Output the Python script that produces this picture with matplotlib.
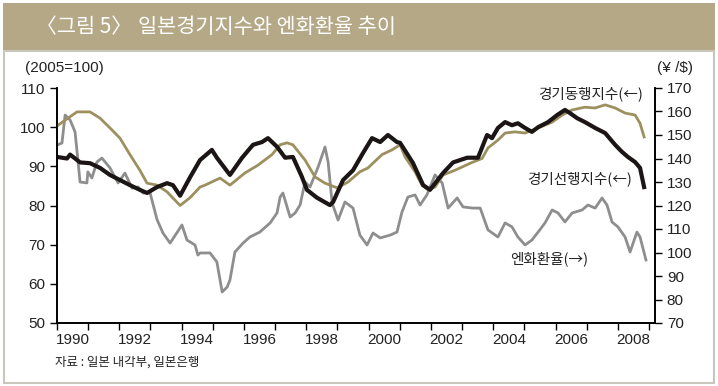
import matplotlib
matplotlib.use("Agg")
import matplotlib.pyplot as plt
from matplotlib.patches import Rectangle
import numpy as np

plt.rcParams['font.family'] = ['Liberation Sans', 'Noto Sans CJK KR', 'DejaVu Sans']

# 경기동행지수 (left axis, 2005=100)
coin_t = [1990.00, 1990.30, 1990.64, 1991.06, 1991.38, 1991.70, 1992.02, 1992.34, 1992.66,
          1992.89, 1993.21, 1993.53, 1993.95, 1994.27, 1994.59, 1994.75, 1995.23, 1995.55,
          1996.03, 1996.45, 1996.90, 1997.16, 1997.38, 1997.57, 1997.96, 1998.28, 1998.60,
          1998.99, 1999.34, 1999.72, 1999.98, 2000.43, 2000.75, 2001.01, 2001.17, 2001.49,
          2001.71, 2001.91, 2002.13, 2002.39, 2002.77, 2003.32, 2003.64, 2003.83, 2004.15,
          2004.38, 2004.70, 2005.02, 2005.44, 2005.89, 2006.21, 2006.53, 2006.94, 2007.27,
          2007.59, 2007.91, 2008.23, 2008.55, 2008.71, 2008.84]
coin_v = [100.3, 102.0, 103.9, 103.9, 102.3, 99.8, 97.2, 93.0, 89.0,
          85.7, 85.2, 83.5, 80.0, 82.0, 84.7, 85.2, 87.0, 85.2,
          88.3, 90.3, 93.0, 95.5, 96.0, 95.5, 91.6, 87.3, 85.7,
          84.5, 86.0, 88.6, 89.6, 93.0, 94.2, 95.5, 92.4, 88.6,
          85.2, 84.0, 84.7, 87.8, 89.0, 91.0, 92.0, 94.7, 96.7,
          98.5, 98.8, 98.5, 99.8, 101.3, 103.1, 104.4, 105.1, 104.9,
          105.7, 104.9, 103.6, 103.1, 101.0, 97.5]

# 경기선행지수 (left axis, 2005=100)
lead_t = [1990.00, 1990.32, 1990.42, 1990.74, 1991.06, 1991.38, 1991.70, 1992.02, 1992.34,
          1992.66, 1992.89, 1993.21, 1993.53, 1993.72, 1993.95, 1994.27, 1994.59, 1994.97,
          1995.13, 1995.55, 1995.94, 1996.29, 1996.58, 1996.77, 1997.06, 1997.32, 1997.57,
          1997.86, 1998.02, 1998.34, 1998.76, 1998.86, 1999.18, 1999.50, 1999.82, 2000.11,
          2000.37, 2000.62, 2000.91, 2001.01, 2001.42, 2001.75, 2001.97, 2002.39, 2002.71,
          2003.16, 2003.51, 2003.58, 2003.80, 2003.96, 2004.15, 2004.38, 2004.60, 2004.79,
          2005.02, 2005.24, 2005.44, 2005.76, 2006.05, 2006.30, 2006.46, 2006.69, 2006.94,
          2007.27, 2007.59, 2007.91, 2008.13, 2008.32, 2008.55, 2008.71, 2008.84]
lead_v = [92.4, 92.0, 93.0, 91.0, 90.8, 89.6, 87.8, 86.5, 85.2,
          84.0, 83.2, 84.7, 85.7, 85.2, 82.5, 87.2, 91.6, 94.2,
          92.2, 87.8, 92.2, 95.5, 96.2, 97.2, 95.0, 92.2, 92.4,
          87.3, 84.0, 82.0, 80.1, 80.9, 86.5, 89.0, 93.4, 97.2,
          96.2, 98.0, 96.2, 96.0, 90.9, 85.2, 84.0, 88.3, 91.0,
          92.2, 92.2, 93.6, 98.0, 97.2, 99.8, 101.3, 100.5, 101.0,
          99.8, 98.8, 100.0, 101.3, 103.1, 104.4, 103.6, 102.3, 101.3,
          99.8, 98.5, 95.5, 93.7, 92.4, 91.1, 89.6, 84.7]

# 엔화환율 (right axis, yen per dollar)
yen_t = [1990.00, 1990.16, 1990.26, 1990.42, 1990.58, 1990.74, 1990.96, 1990.99, 1991.12,
         1991.28, 1991.44, 1991.70, 1991.96, 1992.18, 1992.41, 1992.60, 1992.76, 1992.98,
         1993.21, 1993.40, 1993.63, 1994.01, 1994.17, 1994.43, 1994.52, 1994.59, 1994.91,
         1995.13, 1995.30, 1995.46, 1995.55, 1995.71, 1995.97, 1996.19, 1996.51, 1996.84,
         1997.06, 1997.16, 1997.25, 1997.48, 1997.64, 1997.80, 1997.96, 1998.12, 1998.38,
         1998.60, 1998.70, 1998.83, 1999.02, 1999.24, 1999.50, 1999.72, 1999.95, 2000.14,
         2000.37, 2000.69, 2000.91, 2001.07, 2001.26, 2001.49, 2001.65, 2001.87, 2002.13,
         2002.36, 2002.55, 2002.84, 2003.03, 2003.35, 2003.58, 2003.83, 2004.15, 2004.38,
         2004.60, 2004.79, 2005.02, 2005.24, 2005.44, 2005.66, 2005.89, 2006.08, 2006.30,
         2006.53, 2006.85, 2007.04, 2007.27, 2007.49, 2007.65, 2007.81, 2008.00, 2008.23,
         2008.39, 2008.61, 2008.71, 2008.90]
yen_v = [145.7, 146.6, 158.5, 156.4, 151.3, 130.0, 129.6, 134.3, 131.7,
         138.5, 140.2, 136.0, 129.6, 133.8, 127.4, 127.9, 125.3, 125.7,
         114.0, 108.3, 104.0, 111.7, 105.3, 103.2, 98.9, 99.8, 99.8,
         96.0, 83.2, 85.3, 88.3, 100.2, 104.0, 106.6, 108.7, 112.6,
         116.8, 123.6, 125.3, 115.1, 116.8, 120.2, 130.0, 127.9, 136.4,
         144.9, 138.5, 121.0, 113.8, 121.5, 118.9, 107.4, 103.2, 108.3,
         106.2, 107.4, 108.7, 117.2, 123.6, 124.5, 120.2, 124.5, 133.0,
         129.6, 118.9, 123.2, 119.4, 118.9, 118.9, 109.6, 106.6, 112.6,
         110.9, 106.6, 103.2, 105.3, 108.7, 112.6, 118.1, 116.8, 113.0,
         116.8, 118.1, 120.2, 118.9, 123.2, 120.2, 113.0, 110.9, 106.6,
         100.2, 108.7, 106.6, 96.8]

year_labels = [str(y) for y in range(1990, 2009, 2)]

fig = plt.figure(figsize=(7.18, 3.86), dpi=100)
W, H = 718.0, 386.0

# banner and frame
fig.patches.append(Rectangle((3 / W, 1 - 51 / H), 712 / W, 48 / H, transform=fig.transFigure,
                             facecolor='#b4a886', edgecolor='none', zorder=0))
fig.patches.append(Rectangle((4 / W, 3 / H), 710 / W, (H - 54) / H, transform=fig.transFigure,
                             facecolor='none', edgecolor='#c9c7bd', lw=1.5, zorder=0))
kr = ['Noto Sans CJK KR', 'DejaVu Sans']
fig.text(36 / W, 1 - 27 / H, '〈그림 5〉', color='white',
         fontsize=15, va='center', ha='left', family=kr)
fig.text(138 / W, 1 - 27 / H, '일본경기지수와 엔화환율 추이', color='white',
         fontsize=15, va='center', ha='left', family=kr)

ax = fig.add_axes([57 / W, 1 - 323 / H, 598 / W, 235 / H])
ax2 = ax.twinx()
ax.set_zorder(ax2.get_zorder() + 1)
ax.patch.set_visible(False)

ax2.plot(yen_t, yen_v, color='#8e8e8e', lw=2.0)
ax.plot(coin_t, coin_v, color='#9d905f', lw=2.0)
ax.plot(lead_t, lead_v, color='#1c1515', lw=3.0)

ax.set_xlim(1990, 2009.19)
ax.set_ylim(50, 110)
ax2.set_ylim(70, 170)
ax.set_yticks(range(50, 111, 10))
ax2.set_yticks(range(70, 171, 10))

ax.set_xticks(range(1990, 2010))
ax.set_xticklabels([])
ax.set_xticks([y + 0.5 for y in range(1990, 2009, 2)], minor=True)
ax.set_xticklabels(year_labels, minor=True)
ax.tick_params(axis='x', which='major', direction='out', length=5, width=1)
ax.tick_params(axis='x', which='minor', length=0, pad=7, labelsize=11, labelcolor='#222222')
ax.tick_params(axis='y', direction='out', length=5, width=1, labelsize=11, labelcolor='#222222')
ax2.tick_params(axis='y', direction='out', length=5, width=1, labelsize=11, labelcolor='#222222')

for a in (ax, ax2):
    a.spines['top'].set_visible(False)
    for s in ('left', 'right', 'bottom'):
        a.spines[s].set_linewidth(1.2)

fig.text(25 / W, 1 - 68 / H, '(2005=100)', fontsize=11, color='#222222', va='center')
fig.text(657 / W, 1 - 68 / H, '(¥ /$)', fontsize=11, color='#222222', va='center')
ax.text(2008.8, 108.5, '경기동행지수(←)', fontsize=10.5, family=kr, ha='right', va='center', color='#222222')
ax.text(2008.45, 86.7, '경기선행지수(←)', fontsize=10.5, family=kr, ha='right', va='center', color='#222222')
ax.text(2004.55, 66.3, '엔화환율(→)', fontsize=10.5, family=kr, ha='left', va='center', color='#222222')
fig.text(55 / W, 1 - 362 / H, '자료 : 일본 내각부, 일본은행', fontsize=9, family=kr,
         color='#222222', va='center')

fig.savefig('out.png', dpi=100)
